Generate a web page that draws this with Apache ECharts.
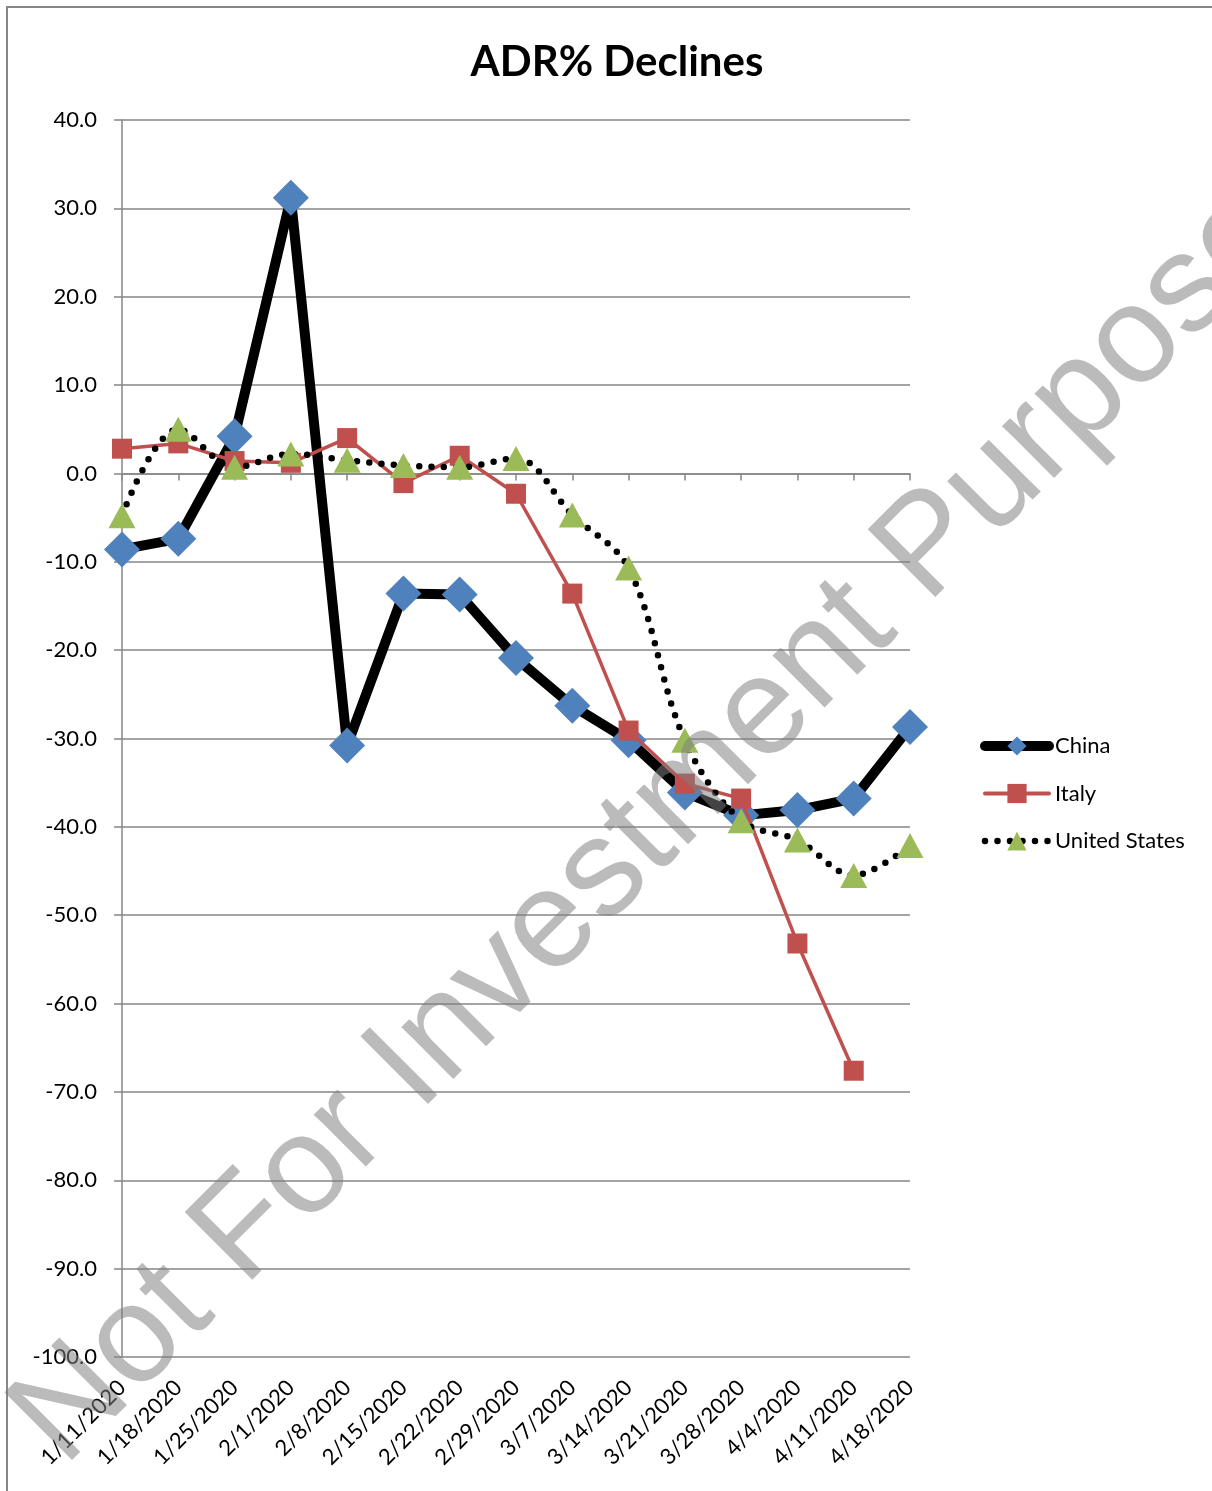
<!DOCTYPE html>
<html>
<head>
<meta charset="utf-8">
<script src="https://cdn.jsdelivr.net/npm/echarts@6/dist/echarts.min.js"></script>
<style>
html,body{margin:0;padding:0;background:#fff;}
#chart{width:1212px;height:1491px;}
</style>
</head>
<body>
<div id="chart"></div>
<script>
var categories = ['1/11/2020','1/18/2020','1/25/2020','2/1/2020','2/8/2020','2/15/2020','2/22/2020','2/29/2020','3/7/2020','3/14/2020','3/21/2020','3/28/2020','4/4/2020','4/11/2020','4/18/2020'];
var china = [-8.6,-7.4,4.2,31.2,-30.8,-13.6,-13.7,-20.9,-26.3,-30.2,-36.1,-38.7,-38.1,-36.8,-28.7];
var italy = [2.8,3.4,1.4,1.2,4.0,-1.1,2.0,-2.3,-13.6,-29.1,-35.1,-36.8,-53.2,-67.6,null];
var us = [-4.8,5.0,0.7,2.2,1.5,0.9,0.7,1.7,-4.7,-10.7,-30.2,-39.3,-41.5,-45.5,-42.1];
var yTicks = {min:-100, max:40, interval:10};
var seriesNames = ['China','Italy','United States'];
var watermarkText = 'Not For Investment Purpose';

var FONT = 'Lato, "Open Sans", sans-serif';
var GRAY = '#868686';
var chart = echarts.init(document.getElementById('chart'), null, {renderer:'canvas'});
var option = {
  backgroundColor:'#ffffff',
  animation:false,
  title:{
    text:'ADR% Declines', left:612, top:36, textAlign:'center',
    textStyle:{fontFamily:FONT, fontWeight:'bold', fontSize:42, color:'#000'}
  },
  legend:{
    orient:'vertical', left:980, top:735, padding:0,
    itemWidth:64, itemHeight:24, itemGap:25.5,
    textStyle:{fontFamily:FONT, fontSize:22, color:'#000', padding:[0,0,0,1]},
    data:[
      {name:seriesNames[0], lineStyle:{width:10, color:'#000', cap:'round'}},
      {name:seriesNames[1], lineStyle:{width:4, color:'#c0504d', cap:'round'}},
      {name:seriesNames[2], lineStyle:{width:6.5, color:'#000', type:[0,12.5], cap:'round'}}
    ]
  },
  grid:{left:122, right:302, top:120, bottom:134, containLabel:false},
  xAxis:[{
    type:'category', data:categories, boundaryGap:false, position:'bottom',
    axisLine:{show:false, onZero:false}, axisTick:{show:false}, splitLine:{show:false},
    axisLabel:{rotate:45, margin:27, interval:0, fontFamily:FONT, fontSize:22, color:'#000'}
  },{
    type:'category', data:categories, boundaryGap:false, position:'bottom',
    axisLine:{show:true, onZero:true, lineStyle:{color:GRAY, width:1.5}},
    axisTick:{show:true, length:7, interval:0, lineStyle:{color:GRAY, width:1.5}},
    axisLabel:{show:false}, splitLine:{show:false}
  }],
  yAxis:{
    type:'value', min:yTicks.min, max:yTicks.max, interval:yTicks.interval,
    axisLine:{show:true, lineStyle:{color:GRAY, width:1.5}},
    axisTick:{show:true, length:8, lineStyle:{color:GRAY, width:1.5}},
    splitLine:{show:true, lineStyle:{color:GRAY, width:1.5}},
    axisLabel:{margin:25, fontFamily:FONT, fontSize:22, color:'#000', formatter:function(v){return v.toFixed(1);}}
  },
  series:[{
    name:seriesNames[0], type:'line', data:china, xAxisIndex:0,
    symbol:'diamond', symbolSize:36,
    lineStyle:{color:'#000', width:10, join:'round'},
    itemStyle:{color:'#4f81bd'}, z:2
  },{
    name:seriesNames[1], type:'line', data:italy, xAxisIndex:0,
    symbol:'rect', symbolSize:20,
    lineStyle:{color:'#c0504d', width:3.5},
    itemStyle:{color:'#c0504d'}, z:3
  },{
    name:seriesNames[2], type:'line', data:us, xAxisIndex:0, smooth:0.35,
    symbol:'triangle', symbolSize:[27,25],
    lineStyle:{color:'#000', width:6.5, type:[0,12.5], cap:'round'},
    itemStyle:{color:'#9bbb59'}, z:4
  }],
  graphic:[{
    type:'rect', shape:{x:7, y:7, width:1260, height:1540}, silent:true, z:-1,
    style:{fill:'none', stroke:GRAY, lineWidth:2}
  },{
    type:'text', x:37, y:1441, rotation:45*Math.PI/180, z:100, silent:true,
    style:{text:watermarkText, font:'139px "Liberation Sans", Arial, sans-serif',
      fill:'#7f7f7f', opacity:0.53, textAlign:'left', textVerticalAlign:'middle', align:'left', verticalAlign:'middle'}
  }]
};
chart.setOption(option);
</script>
</body>
</html>
